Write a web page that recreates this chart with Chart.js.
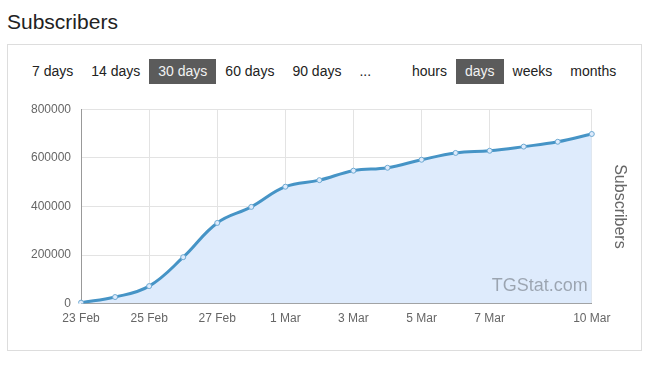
<!DOCTYPE html>
<html>
<head>
<meta charset="utf-8">
<script src="https://cdn.jsdelivr.net/npm/chart.js@4.4.1/dist/chart.umd.min.js"></script>
<style>
  html, body { margin: 0; padding: 0; background: #fff; width: 657px; height: 365px; overflow: hidden; font-family: "Liberation Sans", Arial, sans-serif; }
  #title { position: absolute; left: 7px; top: 8px; font-size: 21px; color: #222; line-height: 28px; }
  #box { position: absolute; left: 7px; top: 44px; width: 635px; height: 307px; border: 1px solid #ddd; box-sizing: border-box; }
  .group { position: absolute; top: 59px; display: flex; }
  .btn { padding: 0 9px; height: 25px; line-height: 24px; font-size: 14px; color: #222; white-space: nowrap; }
  .btn.active { background: #5b5b5b; color: #f2f2f2; }
  #wrap { position: absolute; left: 21px; top: 92px; width: 612px; height: 242px; }
</style>
</head>
<body>
<div id="title">Subscribers</div>
<div id="box"></div>
<div class="group" style="left:23px">
  <span class="btn">7 days</span><span class="btn">14 days</span><span class="btn active">30 days</span><span class="btn">60 days</span><span class="btn">90 days</span><span class="btn">...</span>
</div>
<div class="group" style="left:403px">
  <span class="btn">hours</span><span class="btn active">days</span><span class="btn">weeks</span><span class="btn">months</span>
</div>
<div id="wrap"><canvas id="c"></canvas></div>
<script>
const categories = ["23 Feb","24 Feb","25 Feb","26 Feb","27 Feb","28 Feb","1 Mar","2 Mar","3 Mar","4 Mar","5 Mar","6 Mar","7 Mar","8 Mar","9 Mar","10 Mar"];
const subscribers = [4000, 27000, 72000, 191000, 332000, 398000, 481000, 508000, 547000, 559000, 592000, 620000, 629000, 646000, 666000, 698000];
const shownLabels = ["23 Feb","25 Feb","27 Feb","1 Mar","3 Mar","5 Mar","7 Mar","10 Mar"];
const yTicks = [0, 200000, 400000, 600000, 800000];

const watermark = {
  id: 'watermark',
  afterDatasetsDraw(chart) {
    const {ctx, chartArea} = chart;
    ctx.save();
    ctx.font = '18px "Liberation Sans", Arial, sans-serif';
    ctx.fillStyle = 'rgba(0,0,0,0.3)';
    ctx.textAlign = 'right';
    ctx.textBaseline = 'alphabetic';
    ctx.fillText('TGStat.com', chartArea.right - 4, chartArea.bottom - 13);
    ctx.restore();
  }
};

new Chart(document.getElementById('c'), {
  type: 'line',
  data: {
    labels: categories,
    datasets: [{
      label: 'Subscribers',
      data: subscribers,
      borderColor: 'rgb(70,148,198)',
      backgroundColor: 'rgba(222,235,252,1)',
      fill: true,
      borderWidth: 3,
      tension: 0.4,
      pointRadius: 2.5,
      pointBorderWidth: 1,
      pointBackgroundColor: 'rgba(222,235,252,1)',
      pointBorderColor: 'rgb(110,170,210)'
    }]
  },
  options: {
    responsive: true,
    maintainAspectRatio: false,
    animation: false,
    layout: { padding: 0 },
    plugins: { legend: { display: false }, tooltip: { enabled: false } },
    scales: {
      x: {
        offset: false,
        grid: { color: '#e3e3e3', drawTicks: false },
        border: { color: '#999' },
        afterBuildTicks(scale) {
          scale.ticks = scale.ticks.filter(t => shownLabels.includes(categories[t.value]));
        },
        ticks: {
          autoSkip: false, maxRotation: 0, color: '#666', padding: 8,
          font: { family: '"Liberation Sans", Arial, sans-serif', size: 12 },
          callback(v) { return categories[v]; }
        }
      },
      y: {
        min: 0, max: 800000,
        afterBuildTicks(scale) { scale.ticks = yTicks.map(v => ({ value: v })); },
        grid: { color: '#e3e3e3', drawTicks: false },
        border: { color: '#999' },
        ticks: {
          color: '#666', padding: 10,
          font: { family: '"Liberation Sans", Arial, sans-serif', size: 12 },
          callback(v) { return String(v); }
        }
      },
      y2: {
        display: true, position: 'right', min: 0, max: 800000,
        grid: { display: false, drawTicks: false },
        border: { display: false },
        ticks: { display: false },
        title: {
          display: true, text: 'Subscribers', color: '#666',
          font: { family: '"Liberation Sans", Arial, sans-serif', size: 16 },
          padding: { top: 4, bottom: 18 }
        }
      }
    }
  },
  plugins: [watermark]
});
</script>
</body>
</html>
